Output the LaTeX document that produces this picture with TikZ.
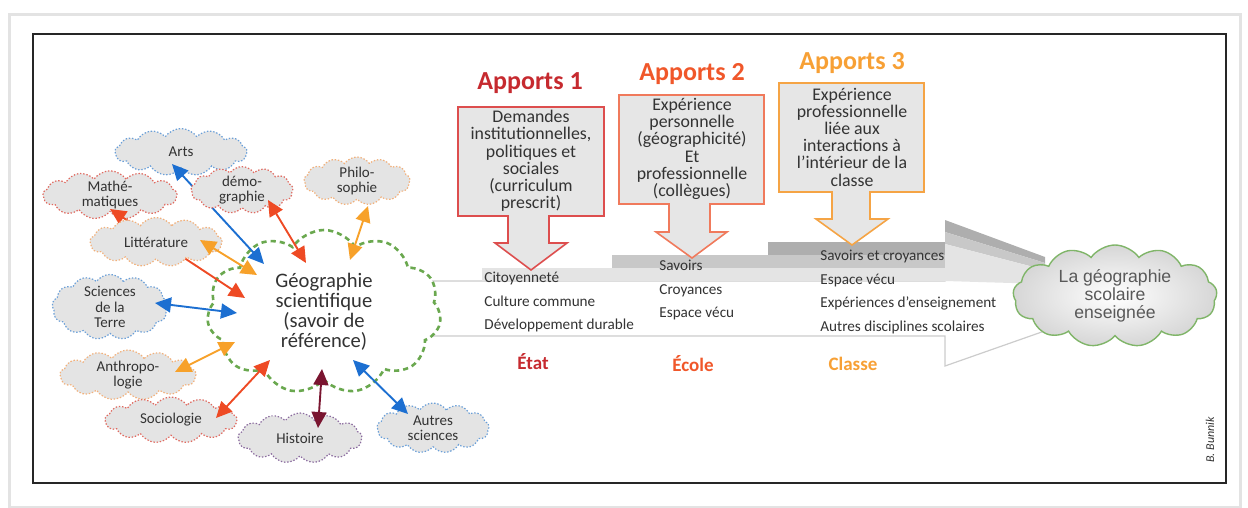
\documentclass[tikz,border=0pt]{standalone}
\usepackage{fontspec}
\setmainfont{Carlito}
\newfontfamily\arialfont{Liberation Sans}
\usetikzlibrary{shapes.symbols,arrows.meta}
\newcommand\tightls{\lineskiplimit=-5pt\relax}
\definecolor{txt}{HTML}{333333}
\definecolor{cloudfill}{HTML}{E4E4E4}
\definecolor{boxfill}{HTML}{E6E6E6}
\definecolor{bandA}{HTML}{E4E4E4}
\definecolor{bandB}{HTML}{C8C8C8}
\definecolor{bandC}{HTML}{AEAEAE}
\definecolor{arrRed}{HTML}{EE4A24}
\definecolor{arrBlue}{HTML}{1C6FD1}
\definecolor{arrOrange}{HTML}{F7A12A}
\definecolor{arrMaroon}{HTML}{7A1530}
\definecolor{clRed}{HTML}{E06A60}
\definecolor{clBlue}{HTML}{6A9FD8}
\definecolor{clOrange}{HTML}{F2B07A}
\definecolor{clPurple}{HTML}{8A6A9E}
\definecolor{green1}{HTML}{6AA84F}
\definecolor{box1c}{HTML}{DD4E4E}
\definecolor{box2c}{HTML}{F07A5C}
\definecolor{box3c}{HTML}{F5A445}
\definecolor{t1}{HTML}{C62A2F}
\definecolor{t2}{HTML}{F0572A}
\definecolor{t3}{HTML}{F7A035}
\begin{document}
\begin{tikzpicture}[x=0.5pt,y=-0.5pt,
  sc/.style={cloud, cloud puffs=13, cloud puff arc=110, cloud ignores aspect,
    fill=cloudfill, line width=0.6pt, dash pattern=on 0.7pt off 0.9pt,
    inner sep=0pt, align=center, text=txt,
    font=\fontsize{7.5}{7.6}\selectfont\tightls},
  dbl/.style={line width=0.95pt, {Triangle[length=8pt,width=7.5pt]}-{Triangle[length=8pt,width=7.5pt]}},
  callout/.style={fill=boxfill, line width=0.8pt, line join=miter},
  boxtxt/.style={align=center, text=txt, inner sep=0pt,
    font=\fontsize{8.9}{8.6}\selectfont\tightls},
  listtxt/.style={align=left, anchor=west, text=txt, inner sep=0pt,
    font=\fontsize{7.6}{11.7}\selectfont},
  titletxt/.style={font=\fontsize{13}{13}\selectfont\bfseries, inner sep=0pt},
  lvl/.style={font=\fontsize{9.5}{9.5}\selectfont\bfseries, inner sep=0pt},
]
\useasboundingbox (0,0) rectangle (1248,508);
% frames
\draw[draw=gray!22, line width=1.5pt] (9,15) rectangle (1240,507);
\draw[draw=black!85, line width=0.8pt] (33,34) rectangle (1226,483);
\node[rotate=90, inner sep=0pt, text=txt, font=\fontsize{6}{6}\selectfont\itshape] (auth) at (1210,440) {B. Bunnik};

% big flat arrow
\draw[fill=white, draw=gray!40, line width=0.6pt] (430,281) -- (945,281) -- (945,251) -- (1110,308) -- (945,366) -- (945,336) -- (430,336);

% stair bands
\fill[bandA] (482,268) rectangle (945,281);
\fill[bandB] (612,255) rectangle (945,268);
\fill[bandC] (768,242) rectangle (945,255);
\fill[bandC] (945,220) -- (1045,257) -- (1045,263) -- (945,232) -- cycle;
\fill[bandB] (945,232) -- (1045,263) -- (1045,270) -- (945,244) -- cycle;
\fill[bandA] (945,244) -- (1045,270) -- (1045,284) -- (945,281) -- cycle;

% callouts
\draw[callout, draw=box1c] (458,107) -- (604,107) -- (604,216) -- (549,216) -- (549,243) -- (567,243) -- (531,270) -- (495,243) -- (508,243) -- (508,216) -- (458,216) -- cycle;
\draw[callout, draw=box2c] (619,95) -- (764,95) -- (764,204) -- (710,204) -- (710,232) -- (727,232) -- (692,258) -- (656,232) -- (669,232) -- (669,204) -- (619,204) -- cycle;
\draw[callout, draw=box3c] (779,83) -- (924,83) -- (924,192) -- (870,192) -- (870,219) -- (888,219) -- (852,245) -- (816,219) -- (832,219) -- (832,192) -- (779,192) -- cycle;

\node[boxtxt] (b1) at (531,161) {Demandes\\institutionnelles,\\politiques et\\sociales\\(curriculum\\prescrit)};
\node[boxtxt] (b2) at (692,149) {Expérience\\personnelle\\(géographicité)\\Et\\professionnelle\\(collègues)};
\node[boxtxt] (b3) at (852,137) {Expérience\\professionnelle\\liée aux\\interactions à\\l’intérieur de la\\classe};

\node[titletxt, text=t1] (a1) at (530,83) {Apports 1};
\node[titletxt, text=t2] (a2) at (692,74) {Apports 2};
\node[titletxt, text=t3] (a3) at (852,63) {Apports 3};

% lists
\node[listtxt] (l1) at (484,302) {Citoyenneté\\Culture commune\\Développement durable};
\node[listtxt] (l2) at (659,290) {Savoirs\\Croyances\\Espace vécu};
\node[listtxt] (l3) at (820,292) {Savoirs et croyances\\Espace vécu\\Expériences d’enseignement\\Autres disciplines scolaires};

\node[lvl, text=t1] (etat) at (533,362) {État};
\node[lvl, text=t2] (ecole) at (693,364) {École};
\node[lvl, text=t3] (classe) at (853,364) {Classe};

% result cloud
\node[cloud, cloud puffs=13, cloud puff arc=110, cloud ignores aspect,
  minimum width=102pt, minimum height=51pt, draw=green1!85, line width=0.7pt,
  inner color=white, outer color=gray!32, inner sep=0pt, align=center,
  text=gray!70!black, font=\arialfont\fontsize{8.8}{9}\selectfont] (res) at (1115,296)
  {La géographie\\scolaire\\enseignée};

% main cloud
\node[cloud, cloud puffs=11, cloud puff arc=115, cloud ignores aspect,
  minimum width=117pt, minimum height=82pt, fill=white, draw=green1,
  line width=1.3pt, dash pattern=on 2.6pt off 2pt, inner sep=0pt, align=center,
  text=txt, font=\fontsize{10.3}{10}\selectfont\tightls] (main) at (324,312)
  {Géographie\\scientifique\\(savoir de\\référence)};

% small clouds (back ones)
\node[sc, draw=clBlue, minimum width=66pt, minimum height=23.5pt] (arts) at (181,152) {Arts};
\node[sc, draw=clRed, minimum width=67pt, minimum height=23pt] (math) at (110,195) {Mathé-\\matiques};

\coordinate (artsA) at (172,164);
\coordinate (artsB) at (264,264);
\coordinate (mathA) at (110,209);
\coordinate (mathB) at (245,298);
\draw[dbl, arrBlue] (artsA) -- (artsB);
\draw[dbl, arrRed] (mathA) -- (mathB);

\node[sc, draw=clRed, minimum width=51pt, minimum height=23pt] (demo) at (242,190) {démo-\\graphie};
\node[sc, draw=clOrange, minimum width=53pt, minimum height=24pt] (philo) at (357,181) {Philo-\\sophie};
\node[sc, draw=clOrange, minimum width=66pt, minimum height=24.5pt] (litt) at (156,242) {Littérature};
\node[sc, draw=clBlue, minimum width=58pt, minimum height=25pt] (sdlt) at (110,307) {Sciences\\de la\\Terre};
\node[sc, draw=clOrange, minimum width=68pt, minimum height=25pt] (anthro) at (128,375) {Anthropo-\\logie};
\node[sc, draw=clRed, minimum width=66pt, minimum height=23pt] (socio) at (171,420) {Sociologie};
\node[sc, draw=clPurple, minimum width=62pt, minimum height=25pt] (hist) at (300,438) {Histoire};
\node[sc, draw=clBlue, minimum width=56pt, minimum height=25pt] (autres) at (433,428) {Autres\\sciences};

\coordinate (demoA) at (268,200);
\coordinate (demoB) at (306,263);
\coordinate (philoA) at (368,206);
\coordinate (philoB) at (350,260);
\coordinate (littA) at (200,240);
\coordinate (littB) at (257,275);
\coordinate (sdltA) at (155,303);
\coordinate (sdltB) at (237,313);
\coordinate (anthroA) at (175,372);
\coordinate (anthroB) at (235,342);
\coordinate (socioA) at (216,418);
\coordinate (socioB) at (270,360);
\coordinate (histA) at (318,428);
\coordinate (histB) at (322,369);
\coordinate (autresA) at (408,414);
\coordinate (autresB) at (353,360);

\draw[dbl, arrRed] (demoA) -- (demoB);
\draw[dbl, arrOrange] (philoA) -- (philoB);
\draw[dbl, arrOrange] (littA) -- (littB);
\draw[dbl, arrBlue] (sdltA) -- (sdltB);
\draw[dbl, arrOrange] (anthroA) -- (anthroB);
\draw[dbl, arrRed] (socioA) -- (socioB);
\draw[dbl, arrMaroon] (histA) -- (histB);
\draw[dbl, arrBlue] (autresA) -- (autresB);
\end{tikzpicture}
\end{document}
